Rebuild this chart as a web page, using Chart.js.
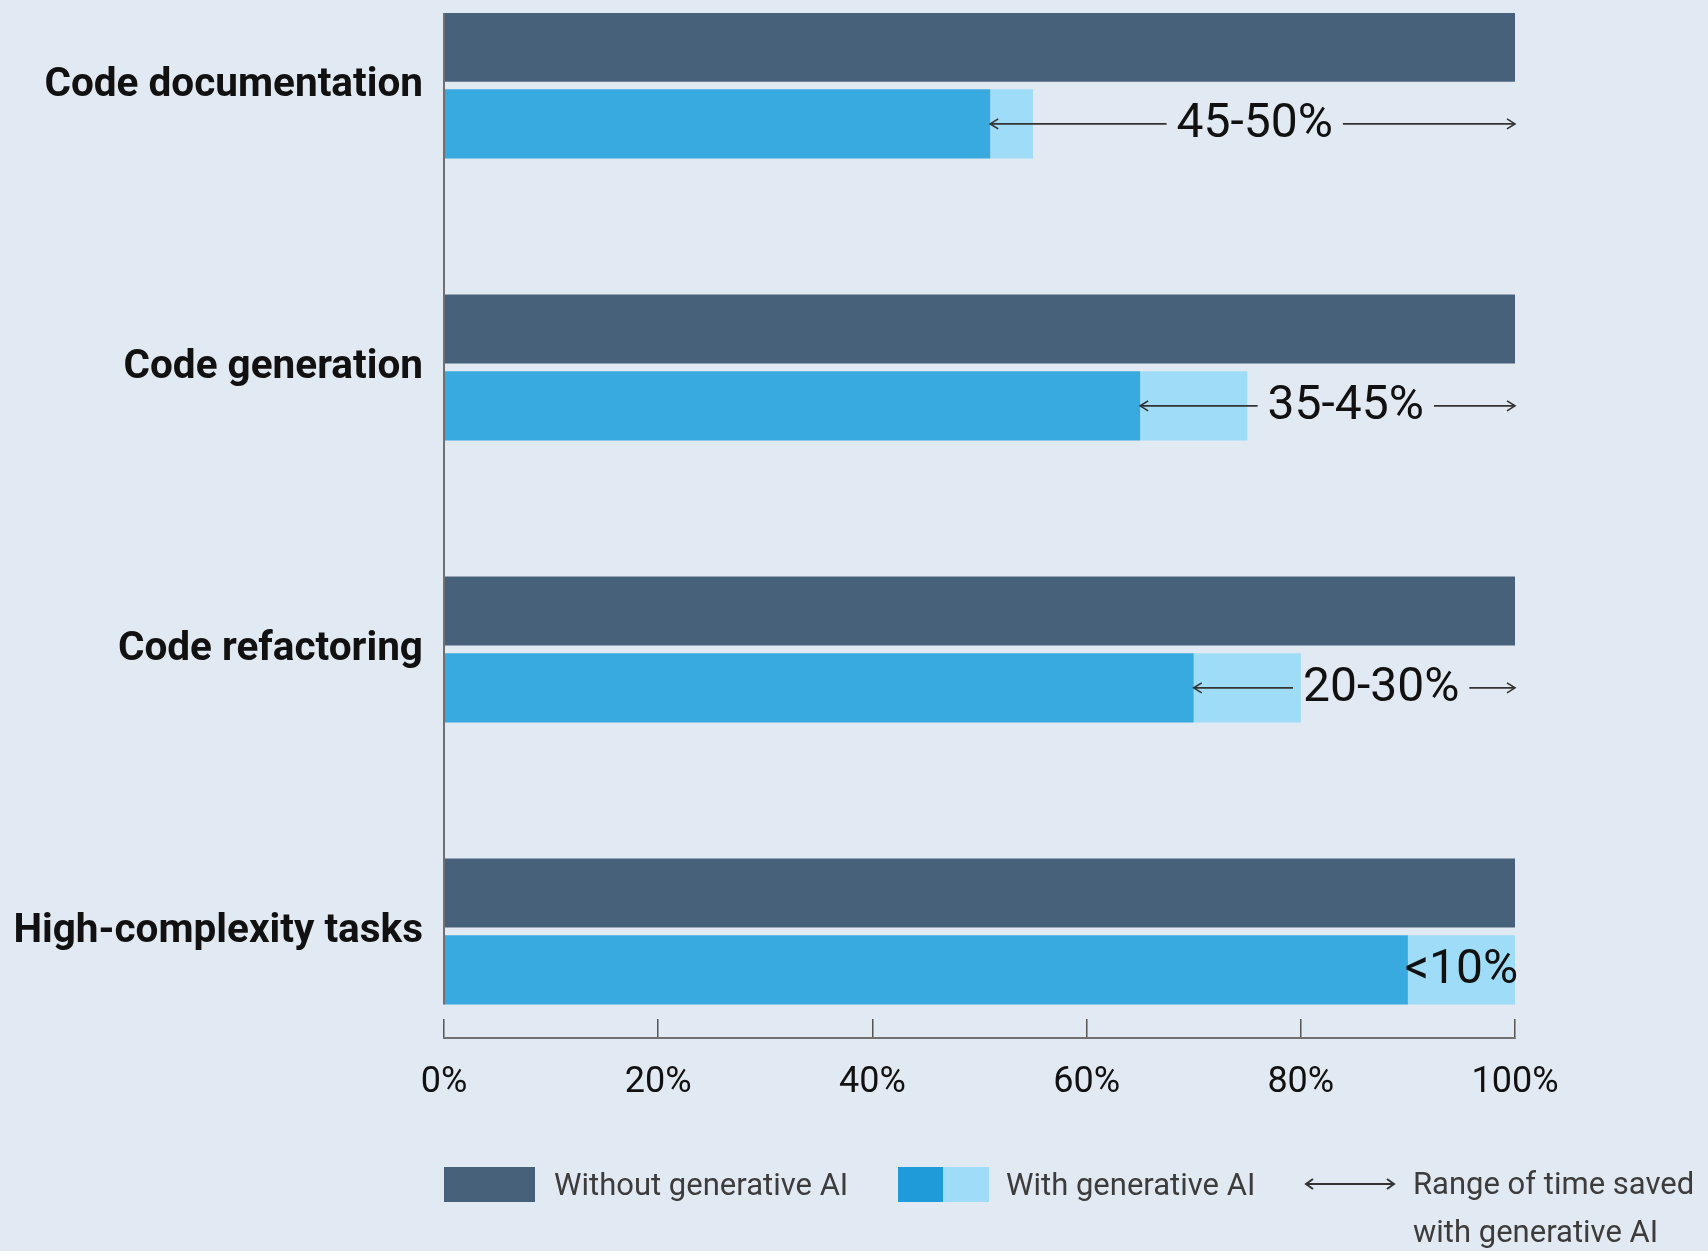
<!DOCTYPE html>
<html>
<head>
<meta charset="utf-8">
<script src="https://cdn.jsdelivr.net/npm/chart.js@4"></script>
<style>
  body { margin: 0; background: #e1e9f3; font-family: Roboto, "Noto Sans", sans-serif; }
  #wrap { position: relative; width: 1708px; height: 1251px; }
  .lg { position: absolute; color: #3c3c3c; font-size: 31px; white-space: nowrap; }
  .sw { position: absolute; height: 35px; }
</style>
</head>
<body>
<div id="wrap">
  <canvas id="chart" width="1708" height="1251"></canvas>
  <div class="sw" style="left:444px;top:1167px;width:91px;background:#48617a"></div>
  <div class="lg" style="left:554px;top:1167px;line-height:35px">Without generative AI</div>
  <div class="sw" style="left:898px;top:1167px;width:45px;background:#1e9bd9"></div>
  <div class="sw" style="left:943px;top:1167px;width:46px;background:#9edcf7"></div>
  <div class="lg" style="left:1006px;top:1167px;line-height:35px">With generative AI</div>
  <svg style="position:absolute;left:1304px;top:1176px" width="92" height="16">
    <path d="M2 8 H90 M9 3 L2 8 L9 13 M83 3 L90 8 L83 13" stroke="#333" stroke-width="2" fill="none"/>
  </svg>
  <div class="lg" style="left:1413px;top:1160px;line-height:48px">Range of time saved<br>with generative AI</div>
</div>
<script>
const categories = ["Code documentation", "Code generation", "Code refactoring", "High-complexity tasks"];
const withoutAI = [100, 100, 100, 100];
const withAI = [51, 65, 70, 90];
const savedRange = [4, 10, 10, 10];
const savedLabels = ["45-50%", "35-45%", "20-30%", "<10%"];
const xTicks = [0, 20, 40, 60, 80, 100];

// where the range label sits, in % along the x axis
const labelAt = [75.7, 84.2, 87.5, 95];

function pts(values) {
    return values.map((v, i) => ({ x: v, y: i }));
}

function chevron(ctx, x, y, dir) {
    ctx.beginPath();
    ctx.moveTo(x - dir * 8, y - 5);
    ctx.lineTo(x, y);
    ctx.lineTo(x - dir * 8, y + 5);
    ctx.stroke();
}

// left axis line stops at the last bar, like the original
const leftAxis = {
    id: "leftAxis",
    afterDatasetsDraw(chart) {
        const ctx = chart.ctx;
        const area = chart.chartArea;
        const bars = chart.getDatasetMeta(1).data;
        const last = bars[bars.length - 1];
        ctx.save();
        ctx.strokeStyle = "#707070";
        ctx.lineWidth = 2;
        ctx.beginPath();
        ctx.moveTo(area.left, area.top);
        ctx.lineTo(area.left, last.y + last.height / 2);
        ctx.stroke();
        ctx.restore();
    }
};

const rangeArrows = {
    id: "rangeArrows",
    afterDatasetsDraw(chart) {
        const ctx = chart.ctx;
        const xs = chart.scales.x;
        const bars = chart.getDatasetMeta(1).data;
        ctx.save();
        ctx.font = "48px Roboto";
        ctx.textAlign = "center";
        ctx.textBaseline = "middle";
        ctx.strokeStyle = "#333";
        ctx.lineWidth = 1.6;
        savedLabels.forEach((txt, i) => {
            const y = bars[i].y;
            const x0 = xs.getPixelForValue(withAI[i]);
            const x1 = xs.getPixelForValue(100);
            const cx = xs.getPixelForValue(labelAt[i]);
            const w = ctx.measureText(txt).width;
            const gap = 10;
            if (cx - w / 2 - gap - x0 > 20) {
                ctx.beginPath();
                ctx.moveTo(x0, y);
                ctx.lineTo(cx - w / 2 - gap, y);
                ctx.moveTo(cx + w / 2 + gap, y);
                ctx.lineTo(x1, y);
                ctx.stroke();
                chevron(ctx, x0, y, -1);
                chevron(ctx, x1, y, 1);
            }
            ctx.fillStyle = "#111";
            ctx.fillText(txt, cx, y + 1);
        });
        ctx.restore();
    }
};

new Chart(document.getElementById("chart"), {
    type: "bar",
    data: {
        datasets: [
            { label: "Without generative AI", data: pts(withoutAI), stack: "without", backgroundColor: "#48617a" },
            { label: "With generative AI", data: pts(withAI), stack: "with", backgroundColor: "#38aae0" },
            { label: "Range of time saved", data: pts(savedRange), stack: "with", backgroundColor: "#9edcf7" }
        ]
    },
    options: {
        indexAxis: "y",
        responsive: false,
        animation: false,
        devicePixelRatio: 1,
        categoryPercentage: 0.545,
        barPercentage: 0.9,
        borderWidth: 0,
        layout: { padding: { top: 13, right: 193, bottom: 153, left: 0 } },
        plugins: { legend: { display: false }, tooltip: { enabled: false } },
        scales: {
            x: {
                stacked: true,
                min: 0,
                max: 100,
                afterBuildTicks: (s) => { s.ticks = xTicks.map(v => ({ value: v })); },
                afterFit: (s) => { s.height = 60; },
                border: { color: "#707070", width: 2 },
                grid: { drawOnChartArea: false, drawTicks: true, tickLength: -19, color: "#555", lineWidth: 1.5 },
                ticks: {
                    padding: 42,
                    color: "#111",
                    font: { family: "Roboto", size: 36 },
                    callback: (v) => v + "%"
                }
            },
            y: {
                type: "linear",
                reverse: true,
                stacked: true,
                offset: false,
                bounds: "data",
                min: -0.257,
                max: 3.378,
                afterBuildTicks: (s) => { s.ticks = categories.map((c, i) => ({ value: i })); },
                afterFit: (s) => { s.width = 444; s.paddingTop = 0; s.paddingBottom = 0; },
                border: { display: false },
                grid: { display: false, drawTicks: false, offset: false },
                ticks: {
                    padding: 21,
                    color: "#111",
                    font: { family: "Roboto", size: 40.5, weight: "bold" },
                    callback: (v) => categories[v] || ""
                }
            }
        }
    },
    plugins: [leftAxis, rangeArrows]
});
</script>
</body>
</html>
